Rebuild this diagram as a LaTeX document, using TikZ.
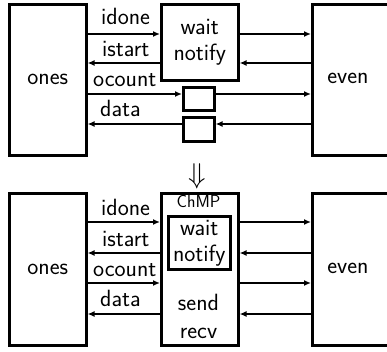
\documentclass[tikz,border=0pt]{standalone}
\usepackage{tikz}
\usetikzlibrary{arrows.meta,positioning}

\begin{document}
\begin{tikzpicture}[
            x=1pt, y=-1pt,
            font=\sffamily\fontsize{23.5}{26}\selectfont,
            block/.style={draw, line width=2.6pt, inner sep=0pt, anchor=north west},
            chan/.style={line width=1.6pt, -{Latex[length=7pt,width=6pt]}},
            bigchan/.style={line width=2.3pt, -{Latex[length=7pt,width=6pt]}},
            lbl/.style={inner sep=0pt, anchor=base west},
        ]
        \useasboundingbox (0,0) rectangle (387,352);
        \clip (0,0) rectangle (387,352);
        % TOP: channels through wait/notify and buffers
        \node[block, minimum width=77pt, minimum height=151pt] (onesA) at (8,3) {ones};
        \node[block, minimum width=90pt, minimum height=151pt] (evenA) at (311,3) {};
        \node at (348,78.5) {even};
        \node[block, minimum width=77pt, minimum height=76pt, align=center] (waitA) at (160,3) {wait\\notify};
        \node[block, minimum width=31pt, minimum height=23pt] (bufA) at (182,86) {};
        \node[block, minimum width=31pt, minimum height=24pt] (bufB) at (182,116) {};
        \coordinate (rA1) at (0,34);
        \coordinate (rA2) at (0,63);
        \coordinate (rA3) at (0,94);
        \coordinate (rA4) at (0,124);
        \draw[chan] (onesA.east |- rA1) -- (waitA.west |- rA1);
        \draw[chan] (waitA.west |- rA2) -- (onesA.east |- rA2);
        \draw[chan] (onesA.east |- rA3) -- (bufA.west |- rA3);
        \draw[bigchan] (bufB.west |- rA4) -- (onesA.east |- rA4);
        \draw[chan] (waitA.east |- rA1) -- (evenA.west |- rA1);
        \draw[chan] (evenA.west |- rA2) -- (waitA.east |- rA2);
        \draw[chan] (bufA.east |- rA3) -- (evenA.west |- rA3);
        \draw[bigchan] (evenA.west |- rA4) -- (bufB.east |- rA4);
        \node[lbl] at (101,25) {idone};
        \node[lbl] at (102,57) {istart};
        \node[lbl] at (93,87) {ocount};
        \node[lbl] at (100,117) {data};
        % refinement step
        \node[inner sep=0pt, scale=1.15] (step) at (197,176) {$\Downarrow$};
        % BOTTOM: channels merged into ChMP
        \node[block, minimum width=77pt, minimum height=152pt] (onesB) at (8,192) {ones};
        \node[block, minimum width=90pt, minimum height=152pt] (evenB) at (311,192) {};
        \node at (348,268) {even};
        \node[block, minimum width=77pt, minimum height=152pt] (chmp) at (160,192) {};
        \node[lbl, anchor=base, font=\sffamily\fontsize{17.5}{20}\selectfont] at (198.5,207.5) {ChMP};
        \node[block, minimum width=62pt, minimum height=53pt, align=center] (waitB) at (167,215) {wait\\notify};
        \node[align=center, inner sep=0pt] at (198.5,316) {send\\[2pt]recv};
        \coordinate (rB1) at (0,222);
        \coordinate (rB2) at (0,253);
        \coordinate (rB3) at (0,283);
        \coordinate (rB4) at (0,314);
        \draw[chan] (onesB.east |- rB1) -- (chmp.west |- rB1);
        \draw[chan] (chmp.west |- rB2) -- (onesB.east |- rB2);
        \draw[chan] (onesB.east |- rB3) -- (chmp.west |- rB3);
        \draw[chan] (chmp.west |- rB4) -- (onesB.east |- rB4);
        \draw[chan] (chmp.east |- rB1) -- (evenB.west |- rB1);
        \draw[chan] (evenB.west |- rB2) -- (chmp.east |- rB2);
        \draw[bigchan] (chmp.east |- rB3) -- (evenB.west |- rB3);
        \draw[chan] (evenB.west |- rB4) -- (chmp.east |- rB4);
        \node[lbl] at (101,215) {idone};
        \node[lbl] at (102,246) {istart};
        \node[lbl] at (93,276) {ocount};
        \node[lbl] at (100,306) {data};
\end{tikzpicture}
\end{document}
